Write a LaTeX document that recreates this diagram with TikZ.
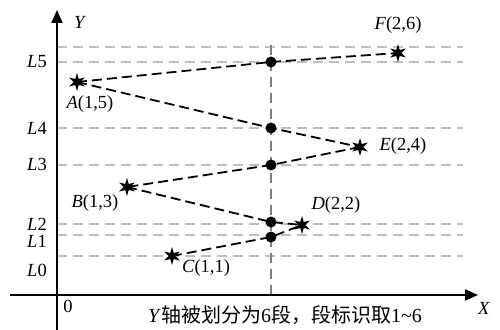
\documentclass[tikz,border=0pt]{standalone}
\usepackage{fontspec}
\setmainfont{Liberation Serif}
\newfontfamily\cjk{Noto Sans CJK SC}
\usetikzlibrary{shapes.geometric,arrows.meta}
\begin{document}
\begin{tikzpicture}[x=1pt,y=-1pt,
  every node/.style={font=\fontsize{18.5}{20}\selectfont,inner sep=0pt},
  grid/.style={draw=black!25,line width=1.3pt,dash pattern=on 10pt off 6pt},
  vline/.style={draw=black!50,line width=1.3pt,dash pattern=on 10pt off 6pt},
  path/.style={draw=black,line width=1.8pt,dash pattern=on 10pt off 5pt},
  axis/.style={draw=black,line width=2pt,-{Triangle[length=13pt,width=11pt]}},
  pt/.style={star,star points=6,star point ratio=2.6,fill=black,inner sep=0pt,minimum size=18pt},
  dot/.style={circle,fill=black,inner sep=0pt,minimum size=11pt}]
\useasboundingbox (0,0) rectangle (500,329);
% grid lines
\foreach \yy in {47,62,128,165,224,235,256}
  \draw[grid] (57,\yy) -- (463,\yy);
\draw[vline] (271,45) -- (271,295);
% axes
\coordinate (o1) at (10,295);
\coordinate (xe) at (478,295);
\coordinate (o2) at (57,330);
\coordinate (ye) at (57,10);
\draw[axis] (o1) -- (xe);
\draw[axis] (o2) -- (ye);
\node at (80,22) {\textit{Y}};
\node at (484,308) {\textit{X}};
\node at (68,306) {0};
% level labels
\node at (37,62) {\textit{L}5};
\node at (37,128) {\textit{L}4};
\node at (37,164) {\textit{L}3};
\node at (37,224) {\textit{L}2};
\node at (37,241) {\textit{L}1};
\node at (37,270) {\textit{L}0};
% points
\node[pt] (A) at (77,82) {};
\node[pt] (F) at (398,53) {};
\node[pt] (E) at (360,147) {};
\node[pt] (B) at (127,187) {};
\node[pt] (D) at (302,225) {};
\node[pt] (C) at (172,256) {};
\node[dot] (d5) at (271,62) {};
\node[dot] (d4) at (271,128) {};
\node[dot] (d3) at (271,165) {};
\node[dot] (d2) at (271,222) {};
\node[dot] (d1) at (271,237) {};
\draw[path] (A.center) -- (d5.center) -- (F.center);
\draw[path] (A.center) -- (d4.center) -- (E.center);
\draw[path] (E.center) -- (d3.center) -- (B.center);
\draw[path] (B.center) -- (d2.center) -- (D.center);
\draw[path] (C.center) -- (d1.center) -- (D.center);
% labels
\node at (90,104) {\textit{A}(1,5)};
\node at (398,25) {\textit{F}(2,6)};
\node at (403,146) {\textit{E}(2,4)};
\node at (95,203) {\textit{B}(1,3)};
\node at (336,205) {\textit{D}(2,2)};
\node at (206,268) {\textit{C}(1,1)};
\node[font=\fontsize{20}{22}\selectfont] at (285,315) {\textit{Y}{\cjk 轴被划分为}6{\cjk 段，段标识取}1\textasciitilde6};
\end{tikzpicture}
\end{document}
